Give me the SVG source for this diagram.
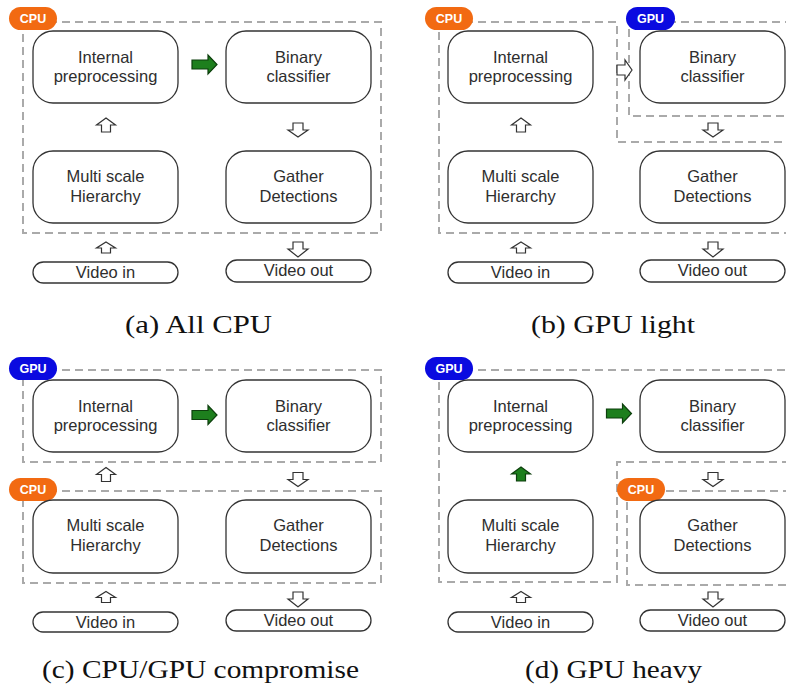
<svg xmlns="http://www.w3.org/2000/svg" xmlns:xlink="http://www.w3.org/1999/xlink" width="786" height="691" viewBox="0 0 786 691">
<style>
.box{fill:#fff;stroke:#333;stroke-width:1.3}
.lbl{font-family:"Liberation Sans",Arial,sans-serif;font-size:16.5px;fill:#2e2e2e;text-anchor:middle}
.region{fill:none;stroke:#aaa;stroke-width:2;stroke-dasharray:8 5}
.cpu{fill:#f26a12}
.gpu{fill:#0a0ae0}
.btxt{font-family:"Liberation Sans",Arial,sans-serif;font-size:12.5px;font-weight:bold;fill:#fff;text-anchor:middle}
.harrow{fill:#fff;stroke:#333;stroke-width:1.2;stroke-linejoin:miter}
.garrow{fill:#1d7f1d;stroke:#0d3f0d;stroke-width:1.2}
.cap{font-family:"Liberation Serif","Times New Roman",serif;font-size:25px;fill:#111}
</style>
<defs>
<path id="up" d="M0,-7 L9.5,0 L4.5,0 L4.5,7 L-4.5,7 L-4.5,0 L-9.5,0 Z"/>
<path id="upS" d="M0,-5.5 L9.5,0.5 L4.5,0.5 L4.5,5.5 L-4.5,5.5 L-4.5,0.5 L-9.5,0.5 Z"/>
<path id="down" d="M-5,-7 L5,-7 L5,0 L10,0 L0,7 L-10,0 L-5,0 Z"/>
<path id="downL" d="M-5,-7.5 L5,-7.5 L5,-0.5 L10,-0.5 L0,7.5 L-10,-0.5 L-5,-0.5 Z"/>
<path id="right" d="M-12.5,-4.5 L3.5,-4.5 L3.5,-9.5 L12.5,0 L3.5,9.5 L3.5,4.5 L-12.5,4.5 Z"/>
<path id="rightS" d="M-7.5,-5 L0.5,-5 L0.5,-10 L7.5,0 L0.5,10 L0.5,5 L-7.5,5 Z"/>
</defs>

<!-- Panel (a) All CPU -->
<g id="panel-a">
  <g id="a-cpu-region"><rect class="region" x="23" y="22" width="358" height="211"/></g>
  <g id="a-cpu-badge"><rect class="cpu" x="9" y="7" width="48" height="23" rx="11.5"/><text class="btxt" x="33" y="23">CPU</text></g>
  <g id="a-internal"><rect class="box" x="33" y="31" width="145" height="72" rx="20"/><text class="lbl" x="105.5" y="63">Internal</text><text class="lbl" x="105.5" y="82">preprocessing</text></g>
  <g id="a-binary"><rect class="box" x="226" y="31" width="145" height="72" rx="20"/><text class="lbl" x="298.5" y="63">Binary</text><text class="lbl" x="298.5" y="82">classifier</text></g>
  <g id="a-multi"><rect class="box" x="33" y="151" width="145" height="72" rx="20"/><text class="lbl" x="105.5" y="182">Multi scale</text><text class="lbl" x="105.5" y="202">Hierarchy</text></g>
  <g id="a-gather"><rect class="box" x="226" y="151" width="145" height="72" rx="20"/><text class="lbl" x="298.5" y="182">Gather</text><text class="lbl" x="298.5" y="202">Detections</text></g>
  <g id="a-videoin"><rect class="box" x="33" y="262" width="145" height="21" rx="10.5"/><text class="lbl" x="105.5" y="278">Video in</text></g>
  <g id="a-videoout"><rect class="box" x="226" y="260" width="145" height="22" rx="11"/><text class="lbl" x="298.5" y="276">Video out</text></g>
  <g id="a-connectors">
    <use href="#right" class="garrow" x="204.5" y="64.5"/>
    <use href="#up" class="harrow" x="106" y="125"/>
    <use href="#down" class="harrow" x="298" y="130"/>
    <use href="#upS" class="harrow" x="106" y="247.5"/>
    <use href="#downL" class="harrow" x="298" y="249.5"/>
  </g>
</g>

<!-- Panel (b) GPU light -->
<g id="panel-b" transform="translate(415,0)">
  <g id="b-cpu-region"><path class="region" d="M24,22 H202 V142 H381 V233 H24 Z"/></g>
  <g id="b-gpu-region"><rect class="region" x="214" y="22" width="167" height="94"/></g>
  <g id="b-cpu-badge"><rect class="cpu" x="10" y="7" width="48" height="23" rx="11.5"/><text class="btxt" x="34" y="23">CPU</text></g>
  <g id="b-gpu-badge"><rect class="gpu" x="211" y="7" width="49" height="23" rx="11.5"/><text class="btxt" x="235.5" y="23">GPU</text></g>
  <g id="b-internal"><rect class="box" x="33" y="31" width="145" height="72" rx="20"/><text class="lbl" x="105.5" y="63">Internal</text><text class="lbl" x="105.5" y="82">preprocessing</text></g>
  <g id="b-binary"><rect class="box" x="225" y="31" width="145" height="72" rx="20"/><text class="lbl" x="297.5" y="63">Binary</text><text class="lbl" x="297.5" y="82">classifier</text></g>
  <g id="b-multi"><rect class="box" x="33" y="151" width="145" height="72" rx="20"/><text class="lbl" x="105.5" y="182">Multi scale</text><text class="lbl" x="105.5" y="202">Hierarchy</text></g>
  <g id="b-gather"><rect class="box" x="225" y="151" width="145" height="72" rx="20"/><text class="lbl" x="297.5" y="182">Gather</text><text class="lbl" x="297.5" y="202">Detections</text></g>
  <g id="b-videoin"><rect class="box" x="33" y="262" width="145" height="21" rx="10.5"/><text class="lbl" x="105.5" y="278">Video in</text></g>
  <g id="b-videoout"><rect class="box" x="225" y="260" width="145" height="22" rx="11"/><text class="lbl" x="297.5" y="276">Video out</text></g>
  <g id="b-connectors">
    <use href="#rightS" class="harrow" x="209.5" y="70"/>
    <use href="#up" class="harrow" x="106" y="125"/>
    <use href="#down" class="harrow" x="298" y="130"/>
    <use href="#upS" class="harrow" x="106" y="247.5"/>
    <use href="#downL" class="harrow" x="298" y="249.5"/>
  </g>
</g>

<!-- Panel (c) CPU/GPU compromise -->
<g id="panel-c" transform="translate(0,350)">
  <g id="c-gpu-region"><rect class="region" x="23" y="20" width="358" height="92"/></g>
  <g id="c-cpu-region"><rect class="region" x="23" y="141" width="358" height="92"/></g>
  <g id="c-gpu-badge"><rect class="gpu" x="9" y="7" width="48" height="23" rx="11.5"/><text class="btxt" x="33" y="23">GPU</text></g>
  <g id="c-cpu-badge"><rect class="cpu" x="9" y="128" width="48" height="23" rx="11.5"/><text class="btxt" x="33" y="144">CPU</text></g>
  <g id="c-internal"><rect class="box" x="33" y="30" width="145" height="72" rx="20"/><text class="lbl" x="105.5" y="62">Internal</text><text class="lbl" x="105.5" y="81">preprocessing</text></g>
  <g id="c-binary"><rect class="box" x="226" y="30" width="145" height="72" rx="20"/><text class="lbl" x="298.5" y="62">Binary</text><text class="lbl" x="298.5" y="81">classifier</text></g>
  <g id="c-multi"><rect class="box" x="33" y="150" width="145" height="73" rx="20"/><text class="lbl" x="105.5" y="181">Multi scale</text><text class="lbl" x="105.5" y="201">Hierarchy</text></g>
  <g id="c-gather"><rect class="box" x="226" y="150" width="145" height="73" rx="20"/><text class="lbl" x="298.5" y="181">Gather</text><text class="lbl" x="298.5" y="201">Detections</text></g>
  <g id="c-videoin"><rect class="box" x="33" y="262" width="145" height="20" rx="10"/><text class="lbl" x="105.5" y="278">Video in</text></g>
  <g id="c-videoout"><rect class="box" x="226" y="260" width="145" height="21" rx="10.5"/><text class="lbl" x="298.5" y="276">Video out</text></g>
  <g id="c-connectors">
    <use href="#right" class="garrow" x="204.5" y="65"/>
    <use href="#up" class="harrow" x="106" y="124.5"/>
    <use href="#down" class="harrow" x="298" y="129.5"/>
    <use href="#upS" class="harrow" x="106" y="247"/>
    <use href="#downL" class="harrow" x="298" y="249.5"/>
  </g>
</g>

<!-- Panel (d) GPU heavy -->
<g id="panel-d" transform="translate(415,350)">
  <g id="d-gpu-region"><path class="region" d="M24,20 H381 V112 H202 V232 H24 Z"/></g>
  <g id="d-cpu-region"><rect class="region" x="212" y="141" width="169" height="94"/></g>
  <g id="d-gpu-badge"><rect class="gpu" x="10" y="7" width="48" height="23" rx="11.5"/><text class="btxt" x="34" y="23">GPU</text></g>
  <g id="d-cpu-badge"><rect class="cpu" x="202" y="128" width="48" height="23" rx="11.5"/><text class="btxt" x="226" y="144">CPU</text></g>
  <g id="d-internal"><rect class="box" x="33" y="30" width="145" height="72" rx="20"/><text class="lbl" x="105.5" y="62">Internal</text><text class="lbl" x="105.5" y="81">preprocessing</text></g>
  <g id="d-binary"><rect class="box" x="225" y="30" width="145" height="72" rx="20"/><text class="lbl" x="297.5" y="62">Binary</text><text class="lbl" x="297.5" y="81">classifier</text></g>
  <g id="d-multi"><rect class="box" x="33" y="150" width="145" height="73" rx="20"/><text class="lbl" x="105.5" y="181">Multi scale</text><text class="lbl" x="105.5" y="201">Hierarchy</text></g>
  <g id="d-gather"><rect class="box" x="225" y="150" width="145" height="73" rx="20"/><text class="lbl" x="297.5" y="181">Gather</text><text class="lbl" x="297.5" y="201">Detections</text></g>
  <g id="d-videoin"><rect class="box" x="33" y="262" width="145" height="20" rx="10"/><text class="lbl" x="105.5" y="278">Video in</text></g>
  <g id="d-videoout"><rect class="box" x="225" y="260" width="145" height="21" rx="10.5"/><text class="lbl" x="297.5" y="276">Video out</text></g>
  <g id="d-connectors">
    <use href="#right" class="garrow" x="204" y="63.5"/>
    <use href="#up" class="garrow" x="106" y="124"/>
    <use href="#down" class="harrow" x="298" y="129.5"/>
    <use href="#upS" class="harrow" x="106" y="247"/>
    <use href="#downL" class="harrow" x="298" y="249.5"/>
  </g>
</g>

<!-- Captions -->
<g id="captions">
  <text class="cap" x="125" y="333" textLength="147" lengthAdjust="spacingAndGlyphs">(a) All CPU</text>
  <text class="cap" x="531" y="333" textLength="164" lengthAdjust="spacingAndGlyphs">(b) GPU light</text>
  <text class="cap" x="42" y="678" textLength="317" lengthAdjust="spacingAndGlyphs">(c) CPU/GPU compromise</text>
  <text class="cap" x="525" y="678" textLength="177" lengthAdjust="spacingAndGlyphs">(d) GPU heavy</text>
</g>
</svg>
